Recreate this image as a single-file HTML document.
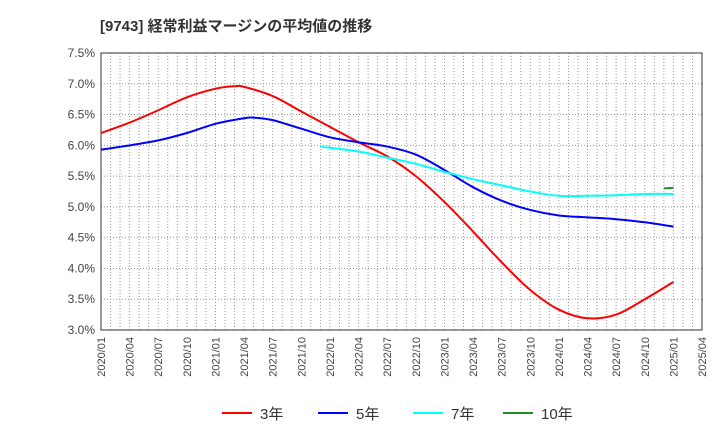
<!DOCTYPE html>
<html><head><meta charset="utf-8"><style>
body{margin:0;background:#fff;font-family:"Liberation Sans","Noto Sans CJK JP",sans-serif;}
</style></head><body>
<svg width="720" height="440" xmlns="http://www.w3.org/2000/svg">
<text x="100" y="31" font-size="15" font-weight="bold" fill="#333" font-family="Liberation Sans, Noto Sans CJK JP, sans-serif">[9743]  経常利益マージンの平均値の推移</text>
<g id="grid"></g><g id="axes"></g><g id="series"></g><g id="legend"></g>
</svg>
<script>
const xLabels=["2020/01","2020/04","2020/07","2020/10","2021/01","2021/04","2021/07","2021/10","2022/01","2022/04","2022/07","2022/10","2023/01","2023/04","2023/07","2023/10","2024/01","2024/04","2024/07","2024/10","2025/01","2025/04"];
const yTicks=[3.0,3.5,4.0,4.5,5.0,5.5,6.0,6.5,7.0,7.5];
const m3=[0,3,6,9,12,14,15,18,21,24,27,30,33,36,39,42,45,48,51,54,57,60];
const v3=[6.2,6.37,6.57,6.78,6.92,6.96,6.95,6.8,6.55,6.3,6.05,5.82,5.5,5.08,4.6,4.1,3.65,3.33,3.19,3.25,3.5,3.78];
const m5=[0,3,6,9,12,15,16,18,21,24,27,30,33,36,39,42,45,48,51,54,57,60];
const v5=[5.93,6.0,6.08,6.2,6.35,6.44,6.45,6.41,6.27,6.13,6.05,5.98,5.85,5.6,5.32,5.1,4.95,4.86,4.83,4.8,4.75,4.68];
const m7=[23,27,30,33,36,39,42,45,48,51,54,57,60];
const v7=[5.98,5.9,5.8,5.7,5.57,5.45,5.35,5.25,5.18,5.18,5.19,5.21,5.21];
const m10=[59,60];
const v10=[5.3,5.31];
const L=101,R=702,T=53,B=330;
const xs=m=>L+m*(R-L)/63;
const ys=v=>B-(v-3.0)*(B-T)/4.5;
const NS="http://www.w3.org/2000/svg";
function mk(tag,attrs,parent){const e=document.createElementNS(NS,tag);for(const k in attrs)e.setAttribute(k,attrs[k]);document.getElementById(parent).appendChild(e);return e;}
for(let m=1;m<63;m++){const l=mk('line',{x1:xs(m),x2:xs(m),y1:T,y2:B,stroke:'#999','stroke-dasharray':'1,2','stroke-width':1},'grid');

}
yTicks.forEach(v=>{if(v>3&&v<7.5){const l=mk('line',{x1:L,x2:R,y1:ys(v),y2:ys(v),stroke:'#999','stroke-dasharray':'1,2'},'grid');

}
const t=mk('text',{x:L-6,y:ys(v)+4,'text-anchor':'end','font-size':12,fill:'#444'},'axes');t.textContent=v.toFixed(1)+'%';

});
xLabels.forEach((s,i)=>{const x=xs(i*3)+4;const t=mk('text',{x:x,y:337,'text-anchor':'end','font-size':11,fill:'#444',transform:`rotate(-90 ${x} 337)`},'axes');t.textContent=s;

});
const fr=mk('rect',{x:L,y:T,width:R-L,height:B-T,fill:'none',stroke:'#333','stroke-width':1},'axes');


function path(ms,vs){const p=ms.map((m,i)=>[xs(m),ys(vs[i])]);let d=`M${p[0][0]},${p[0][1]}`;
for(let i=0;i<p.length-1;i++){const p0=p[i-1]||p[i],p1=p[i],p2=p[i+1],p3=p[i+2]||p2;
d+=` C${p1[0]+(p2[0]-p0[0])/6},${p1[1]+(p2[1]-p0[1])/6} ${p2[0]-(p3[0]-p1[0])/6},${p2[1]-(p3[1]-p1[1])/6} ${p2[0]},${p2[1]}`;}return d;}
const series=[[m3,v3,'#ff0000','3年','series-3y'],[m5,v5,'#0000ff','5年','series-5y'],[m7,v7,'#00ffff','7年','series-7y'],[m10,v10,'#228b22','10年','series-10y']];
series.forEach(([ms,vs,c,n,nm],i)=>{const p=mk('path',{d:path(ms,vs),fill:'none',stroke:c,'stroke-width':2},'series');


const lx=[222,318,413,503][i];
const ll=mk('line',{x1:lx,x2:lx+30,y1:413,y2:413,stroke:c,'stroke-width':2},'legend');


const lt=mk('text',{x:lx+38,y:419,'font-size':15,fill:'#333'},'legend');lt.textContent=n;

});
</script>
</body></html>
